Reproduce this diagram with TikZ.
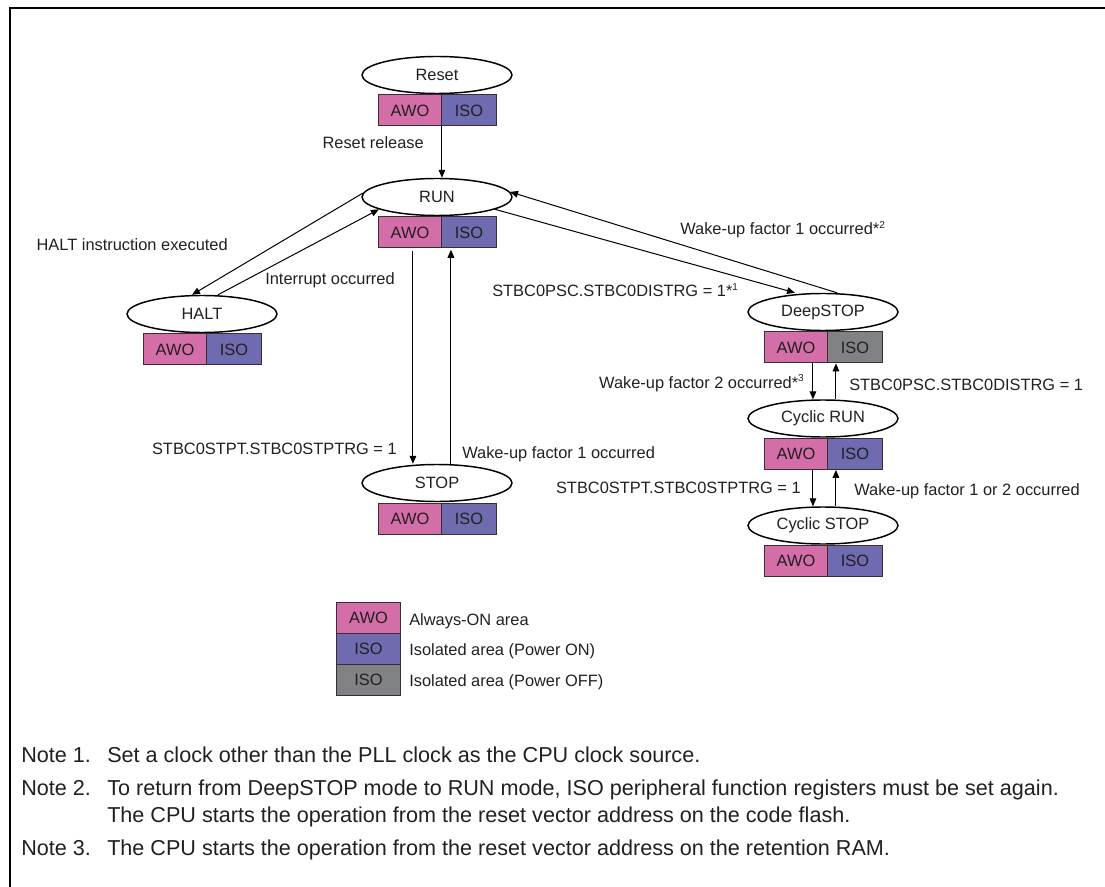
\documentclass[tikz,border=0pt]{standalone}
\usepackage{fontspec}
\setmainfont{Liberation Sans}
\usetikzlibrary{arrows.meta,shapes.geometric}
\definecolor{awo}{HTML}{D46EA9}
\definecolor{isoon}{HTML}{6F6BB0}
\definecolor{isooff}{HTML}{808285}
\definecolor{txt}{HTML}{231F20}
\definecolor{edge}{HTML}{3A2C30}
\newcommand\stategroup[5]{%
  \node[state] (#1) at (#2,#3) {#4};
  \node[awocell] (#1awo) at (#2-59,#3+19.5) {AWO};
  \node[#5] (#1iso) at (#2+4,#3+19.5) {ISO};
}
\newcommand\supnum[1]{\raisebox{0.38em}{\fontsize{7.5}{8}\selectfont #1}}
\begin{document}
\begin{tikzpicture}[x=0.75pt,y=-0.75pt,
  font=\fontsize{12.3}{14}\selectfont, text=txt,
  state/.style={ellipse, draw=black, line width=1.1pt, minimum width=112.5pt, minimum height=27.75pt, inner sep=0pt, fill=white},
  cell/.style={draw=edge, line width=0.7pt, minimum height=23.25pt, inner sep=0pt, anchor=north west},
  awocell/.style={cell, fill=awo, minimum width=47.25pt},
  isocell/.style={cell, fill=isoon, minimum width=41.25pt},
  offcell/.style={cell, fill=isooff, minimum width=41.25pt},
  legcell/.style={draw=edge, line width=0.7pt, minimum width=48pt, minimum height=23.25pt, inner sep=0pt, anchor=north west},
  arr/.style={draw=black, line width=0.75pt, -{Triangle[length=6pt,width=5pt]}},
  lab/.style={inner sep=0pt},
  note/.style={inner sep=0pt, anchor=base west, font=\fontsize{16.2}{19}\selectfont},
]
\useasboundingbox (0,0) rectangle (1105,887);
\draw[line width=2pt] (10,887) -- (10,8) -- (1105,8);

% states
\stategroup{reset}{437}{75}{Reset}{isocell}
\stategroup{run}{437}{197}{RUN}{isocell}
\stategroup{halt}{202}{314}{HALT}{isocell}
\stategroup{stop}{437}{483}{STOP}{isocell}
\stategroup{deep}{823}{312}{DeepSTOP}{offcell}
\stategroup{crun}{823}{418.5}{Cyclic RUN}{isocell}
\stategroup{cstop}{823}{525.5}{Cyclic STOP}{isocell}

% connectors
\draw[arr] (resetawo.south east) -- (resetawo.south east |- run.north);
\draw[arr] (run.177) -- ([xshift=-7.5pt]halt.north);
\draw[arr] ([xshift=12pt]halt.north) -- (run.192);
\coordinate (rd) at ([xshift=-21.75pt,yshift=-2pt]runawo.south east);
\coordinate (ru) at ([xshift=6.75pt,yshift=-1pt]runawo.south east);
\draw[arr] (rd) -- (rd |- stop.north);
\draw[arr] (ru |- stop.north) -- (ru);
\draw[arr] (run.-12) -- ([xshift=-21pt]deep.north);
\draw[arr] ([xshift=10.5pt]deep.north) -- (run.4);
\coordinate (dd) at ([xshift=-11.25pt]deepawo.south east);
\coordinate (du) at ([xshift=6pt]deepawo.south east);
\draw[arr] (dd) -- (dd |- crun.north);
\draw[arr] (du |- crun.north) -- (du);
\coordinate (cd) at ([xshift=-11.25pt]crunawo.south east);
\coordinate (cu) at ([xshift=6pt]crunawo.south east);
\draw[arr] (cd) -- (cd |- cstop.north);
\draw[arr] (cu |- cstop.north) -- (cu);

% labels
\node[lab, anchor=base east] (l1) at (424,149) {Reset release};
\node[lab, anchor=base east] (l2) at (228,251) {HALT instruction executed};
\node[lab, anchor=base west] (l3) at (265,285) {Interrupt occurred};
\node[lab, anchor=base east] (l4) at (397,454) {STBC0STPT.STBC0STPTRG = 1};
\node[lab, anchor=base west] (l5) at (462,458) {Wake-up factor 1 occurred};
\node[lab, anchor=base west] (l6) at (680,235) {Wake-up factor 1 occurred*\supnum{2}};
\node[lab, anchor=base west] (l7) at (492,297) {STBC0PSC.STBC0DISTRG = 1*\supnum{1}};
\node[lab, anchor=base east] (l8) at (804,388) {Wake-up factor 2 occurred*\supnum{3}};
\node[lab, anchor=base west] (l9) at (849,390) {STBC0PSC.STBC0DISTRG = 1};
\node[lab, anchor=base east] (l10) at (801,493) {STBC0STPT.STBC0STPTRG = 1};
\node[lab, anchor=base west] (l11) at (854,495) {Wake-up factor 1 or 2 occurred};

% legend
\node[legcell, fill=awo] (lg1) at (336,602) {AWO};
\node[legcell, fill=isoon] (lg2) at (336,633) {ISO};
\node[legcell, fill=isooff] (lg3) at (336,664) {ISO};
\node[lab, anchor=base west] (lt1) at (409,625) {Always-ON area};
\node[lab, anchor=base west] (lt2) at (409,655) {Isolated area (Power ON)};
\node[lab, anchor=base west] (lt3) at (409,686) {Isolated area (Power OFF)};

% notes
\node[note] (n1) at (21,762) {Note 1.};
\node[note] (t1) at (107,762) {Set a clock other than the PLL clock as the CPU clock source.};
\node[note] (n2) at (21,795) {Note 2.};
\node[note] (t2) at (107,795) {To return from DeepSTOP mode to RUN mode, ISO peripheral function registers must be set again.};
\node[note] (t2b) at (107,822) {The CPU starts the operation from the reset vector address on the code flash.};
\node[note] (n3) at (21,855) {Note 3.};
\node[note] (t3) at (107,855) {The CPU starts the operation from the reset vector address on the retention RAM.};
\end{tikzpicture}
\end{document}
